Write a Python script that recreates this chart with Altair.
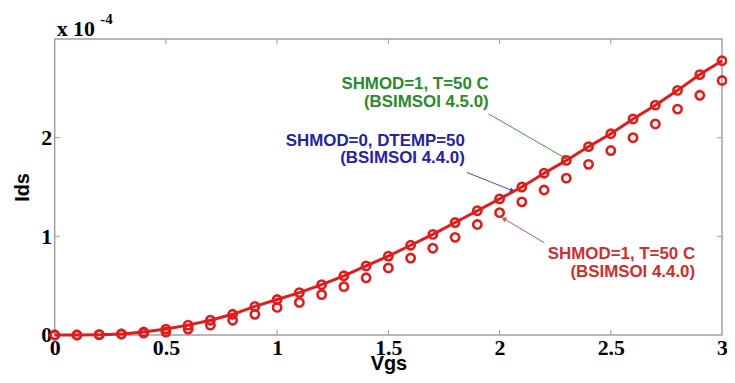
import altair as alt
import pandas as pd

# ---- data (Ids in units of 1e-4 A) ----
vgs = [0.0, 0.1, 0.2, 0.3, 0.4, 0.5, 0.6, 0.7, 0.8, 0.9, 1.0,
       1.1, 1.2, 1.3, 1.4, 1.5, 1.6, 1.7, 1.8, 1.9, 2.0,
       2.1, 2.2, 2.3, 2.4, 2.5, 2.6, 2.7, 2.8, 2.9, 3.0]
ids_shmod0_dtemp50_440 = [0, 0, 0.003, 0.01, 0.03, 0.06, 0.10, 0.15, 0.21, 0.29, 0.36,
                          0.43, 0.51, 0.60, 0.70, 0.80, 0.91, 1.02, 1.14, 1.26, 1.38,
                          1.50, 1.64, 1.77, 1.91, 2.04, 2.19, 2.33, 2.48, 2.64, 2.78]
ids_shmod1_t50_450 = [0, 0, 0.003, 0.01, 0.03, 0.06, 0.10, 0.15, 0.21, 0.29, 0.36,
                      0.43, 0.51, 0.60, 0.70, 0.80, 0.91, 1.02, 1.14, 1.26, 1.38,
                      1.50, 1.64, 1.77, 1.91, 2.04, 2.19, 2.33, 2.48, 2.64, 2.78]
ids_shmod1_t50_440 = [0, 0, 0.003, 0.01, 0.02, 0.03, 0.06, 0.10, 0.15, 0.21, 0.28,
                      0.33, 0.41, 0.49, 0.58, 0.68, 0.78, 0.88, 0.99, 1.12, 1.24,
                      1.35, 1.47, 1.59, 1.73, 1.87, 2.00, 2.14, 2.29, 2.43, 2.58]

x_ticks = [0.5, 1.0, 1.5, 2.0, 2.5]
y_ticks = [1.0, 2.0]

# annotations
ann_text = ["SHMOD=1, T=50 C", "(BSIMSOI 4.5.0)",
            "SHMOD=0, DTEMP=50", "(BSIMSOI 4.4.0)",
            "SHMOD=1, T=50 C", "(BSIMSOI 4.4.0)"]
ann_x = [1.951, 1.951, 1.844, 1.844, 2.879, 2.879]
ann_y = [2.492, 2.312, 1.920, 1.739, 0.774, 0.583]
ann_color = ["#2b8a2b", "#2b8a2b", "#2323a8", "#2323a8", "#cf2e2e", "#cf2e2e"]

arrow_x = [1.951, 1.853, 2.201]
arrow_y = [2.241, 1.648, 0.935]
arrow_x2 = [2.29, 2.054, 2.022]
arrow_y2 = [1.80, 1.467, 1.176]
arrow_color = ["#4c8f4c", "#4a4aa8", "#b06060"]
arrow_angle = [120, 112, 301]

W, H = 672, 298
RED = "#e01c1c"

xscale = alt.Scale(domain=[0, 3], nice=False)
yscale = alt.Scale(domain=[0, 3], nice=False)
xaxis = alt.Axis(values=[0, 0.5, 1, 1.5, 2, 2.5, 3], title="Vgs", grid=False,
                 ticks=False, domain=False, labelFlush=False, labelPadding=3,
                 labelFont="Liberation Serif", labelFontWeight="bold",
                 labelFontSize=22, labelColor="black",
                 titleFont="Liberation Sans", titleFontWeight="bold",
                 titleFontSize=20, titleColor="black", titlePadding=-5,
                 format="~g", labelOverlap=False)
yaxis = alt.Axis(values=[0, 1, 2], title="Ids", grid=False, ticks=False,
                 domain=False, labelFlush=False, labelPadding=3,
                 labelFont="Liberation Serif", labelFontWeight="bold",
                 labelFontSize=22, labelColor="black",
                 titleFont="Liberation Sans", titleFontWeight="bold",
                 titleFontSize=20, titleColor="black", titlePadding=8,
                 format="~g", labelOverlap=False)


def X(f):
    return alt.X(f, type="quantitative", scale=xscale, axis=xaxis)


def Y(f):
    return alt.Y(f, type="quantitative", scale=yscale, axis=yaxis)


curves = pd.DataFrame({"vgs": vgs,
                       "a": ids_shmod0_dtemp50_440,
                       "b": ids_shmod1_t50_450,
                       "c": ids_shmod1_t50_440})

line = alt.Chart(curves).mark_line(color=RED, strokeWidth=3).encode(x=X("vgs"), y=Y("a"))
pts_new = alt.Chart(curves).mark_point(shape="circle", color=RED, size=70,
                                       strokeWidth=2.6, filled=False, opacity=1).encode(
    x=X("vgs"), y=Y("b"))
pts_old = alt.Chart(curves).mark_point(shape="circle", color=RED, size=70,
                                       strokeWidth=2.6, filled=False, opacity=1).encode(
    x=X("vgs"), y=Y("c"))

xt = pd.DataFrame({"v": x_ticks})
yt = pd.DataFrame({"v": y_ticks})
TK = "#999999"
tick_b = alt.Chart(xt).mark_rule(color=TK, strokeWidth=1).encode(
    x=X("v"), y=alt.value(H), y2=alt.value(H - 5))
tick_t = alt.Chart(xt).mark_rule(color=TK, strokeWidth=1).encode(
    x=X("v"), y=alt.value(0), y2=alt.value(5))
tick_l = alt.Chart(yt).mark_rule(color=TK, strokeWidth=1).encode(
    y=Y("v"), x=alt.value(0), x2=alt.value(5))
tick_r = alt.Chart(yt).mark_rule(color=TK, strokeWidth=1).encode(
    y=Y("v"), x=alt.value(W), x2=alt.value(W - 5))

ann = pd.DataFrame({"t": ann_text, "x": ann_x, "y": ann_y, "c": ann_color})
ann_layer = alt.Chart(ann).mark_text(align="right", baseline="alphabetic",
                                     font="Liberation Sans", fontWeight="bold",
                                     fontSize=17).encode(
    x=X("x"), y=Y("y"), text="t:N", color=alt.Color("c:N", scale=None))

arr = pd.DataFrame({"x": arrow_x, "y": arrow_y, "x2": arrow_x2, "y2": arrow_y2,
                    "c": arrow_color, "a": arrow_angle})
arr_lines = alt.Chart(arr).mark_rule(strokeWidth=1).encode(
    x=X("x"), y=Y("y"), x2="x2:Q", y2="y2:Q", color=alt.Color("c:N", scale=None))
arr_heads = alt.Chart(arr).mark_point(shape="triangle", filled=True, size=30,
                                      opacity=1).encode(
    x=X("x2"), y=Y("y2"), angle=alt.Angle("a:Q", scale=None),
    color=alt.Color("c:N", scale=None))

exp_main = alt.Chart(pd.DataFrame({"t": ["x 10"]})).mark_text(
    align="left", baseline="alphabetic", font="Liberation Serif", fontWeight="bold",
    fontSize=22, color="black").encode(text="t:N", x=alt.value(2), y=alt.value(-3))
exp_sup = alt.Chart(pd.DataFrame({"t": ["-4"]})).mark_text(
    align="left", baseline="alphabetic", font="Liberation Serif", fontWeight="bold",
    fontSize=15, color="black").encode(text="t:N", x=alt.value(46), y=alt.value(-15))

chart = alt.layer(
    tick_b, tick_t, tick_l, tick_r,
    arr_lines, arr_heads,
    line, pts_new, pts_old,
    ann_layer, exp_main, exp_sup,
).properties(
    width=W, height=H,
    autosize=alt.AutoSizeParams(type="none"),
    padding={"left": 47, "top": 30, "right": 5, "bottom": 39},
    background="white",
).configure_view(stroke="#a0a0a0", strokeWidth=1.5)

chart.save("out.html", embed_options={"renderer": "svg", "actions": False})
